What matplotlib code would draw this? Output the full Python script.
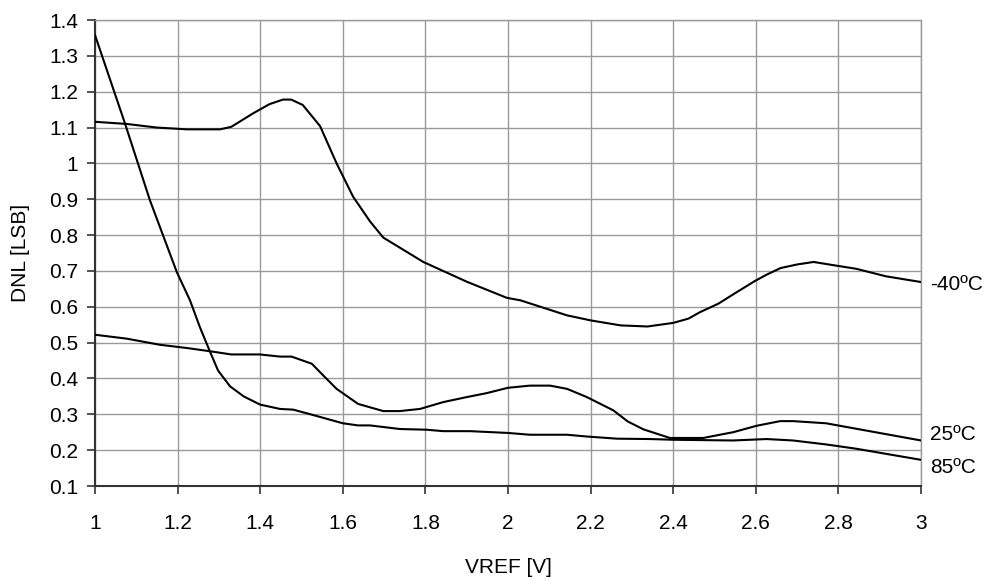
import matplotlib
matplotlib.use("Agg")
import matplotlib.pyplot as plt

plt.rcParams['font.family'] = ['Liberation Sans', 'DejaVu Sans']

# -40°C curve
x_m40 = [1.0, 1.077, 1.149, 1.222, 1.303, 1.33, 1.382, 1.422, 1.455, 1.475, 1.503, 1.545,
         1.585, 1.625, 1.666, 1.698, 1.795, 1.9, 1.997, 2.03, 2.143, 2.2, 2.273, 2.338,
         2.4, 2.437, 2.465, 2.51, 2.55, 2.598, 2.627, 2.66, 2.7, 2.74, 2.788, 2.843, 2.915, 3.0]
y_m40 = [1.116, 1.11, 1.10, 1.095, 1.095, 1.102, 1.139, 1.165, 1.178, 1.178, 1.163, 1.104,
         1.0, 0.907, 0.838, 0.793, 0.725, 0.67, 0.625, 0.618, 0.576, 0.562, 0.548, 0.545,
         0.555, 0.567, 0.585, 0.609, 0.638, 0.672, 0.69, 0.708, 0.718, 0.725, 0.716, 0.706, 0.685, 0.669]

# 25°C curve
x_25 = [1.0, 1.077, 1.157, 1.222, 1.278, 1.33, 1.399, 1.448, 1.476, 1.525, 1.553, 1.585,
        1.637, 1.698, 1.738, 1.787, 1.843, 1.9, 1.948, 2.0, 2.053, 2.102, 2.143, 2.191,
        2.255, 2.29, 2.328, 2.392, 2.473, 2.513, 2.545, 2.602, 2.659, 2.69, 2.77, 3.0]
y_25 = [0.522, 0.511, 0.494, 0.485, 0.476, 0.467, 0.467, 0.461, 0.461, 0.441, 0.408, 0.371,
        0.329, 0.309, 0.309, 0.315, 0.334, 0.348, 0.359, 0.374, 0.38, 0.38, 0.371, 0.348,
        0.311, 0.28, 0.258, 0.234, 0.234, 0.243, 0.25, 0.268, 0.281, 0.281, 0.275, 0.227]

# 85°C curve
x_85 = [1.0, 1.073, 1.133, 1.198, 1.23, 1.254, 1.278, 1.298, 1.327, 1.36, 1.4, 1.448,
        1.48, 1.525, 1.6, 1.637, 1.666, 1.738, 1.803, 1.843, 1.908, 2.0, 2.053, 2.143,
        2.191, 2.264, 2.344, 2.4, 2.545, 2.626, 2.69, 2.77, 2.843, 3.0]
y_85 = [1.358, 1.11, 0.897, 0.697, 0.618, 0.543, 0.476, 0.422, 0.378, 0.35, 0.327, 0.315,
        0.313, 0.299, 0.275, 0.269, 0.269, 0.259, 0.257, 0.253, 0.253, 0.248, 0.243, 0.243,
        0.238, 0.232, 0.231, 0.229, 0.227, 0.231, 0.227, 0.216, 0.204, 0.173]

labels = ["-40ºC", "25ºC", "85ºC"]
label_y = [0.663, 0.245, 0.152]

xticks = [1, 1.2, 1.4, 1.6, 1.8, 2, 2.2, 2.4, 2.6, 2.8, 3]
xticklabels = ["1", "1.2", "1.4", "1.6", "1.8", "2", "2.2", "2.4", "2.6", "2.8", "3"]
yticks = [0.1, 0.2, 0.3, 0.4, 0.5, 0.6, 0.7, 0.8, 0.9, 1.0, 1.1, 1.2, 1.3, 1.4]
yticklabels = ["0.1", "0.2", "0.3", "0.4", "0.5", "0.6", "0.7", "0.8", "0.9", "1", "1.1", "1.2", "1.3", "1.4"]

fig = plt.figure(figsize=(9.87, 5.82), dpi=100)
ax = fig.add_axes([95/987, 1-486/582, (921-95)/987, (486-20)/582])

for xs, ys in [(x_m40, y_m40), (x_25, y_25), (x_85, y_85)]:
    ax.plot(xs, ys, color='black', lw=1.5, zorder=3)

ax.set_xlim(1, 3)
ax.set_ylim(0.1, 1.4)
ax.set_xticks(xticks)
ax.set_xticklabels(xticklabels)
ax.set_yticks(yticks)
ax.set_yticklabels(yticklabels)
ax.grid(True, color='#9a9a9a', lw=1.0, zorder=0)
ax.set_axisbelow(True)
for s in ['top', 'right']:
    ax.spines[s].set_color('#9a9a9a')
    ax.spines[s].set_linewidth(1.0)
for s in ['left', 'bottom']:
    ax.spines[s].set_color('#333333')
    ax.spines[s].set_linewidth(1.5)
ax.tick_params(axis='x', direction='out', length=6, width=1.2, color='#333333',
               labelsize=15, pad=14)
ax.tick_params(axis='y', direction='out', length=6, width=1.2, color='#333333',
               labelsize=15, pad=6)

ax.set_xlabel("VREF [V]", fontsize=15, labelpad=18)
ax.set_ylabel("DNL [LSB]", fontsize=15, labelpad=14)

for lab, yy in zip(labels, label_y):
    ax.text(3.022, yy, lab, fontsize=15, va='center', ha='left', clip_on=False)

fig.savefig("out.png", dpi=100)
